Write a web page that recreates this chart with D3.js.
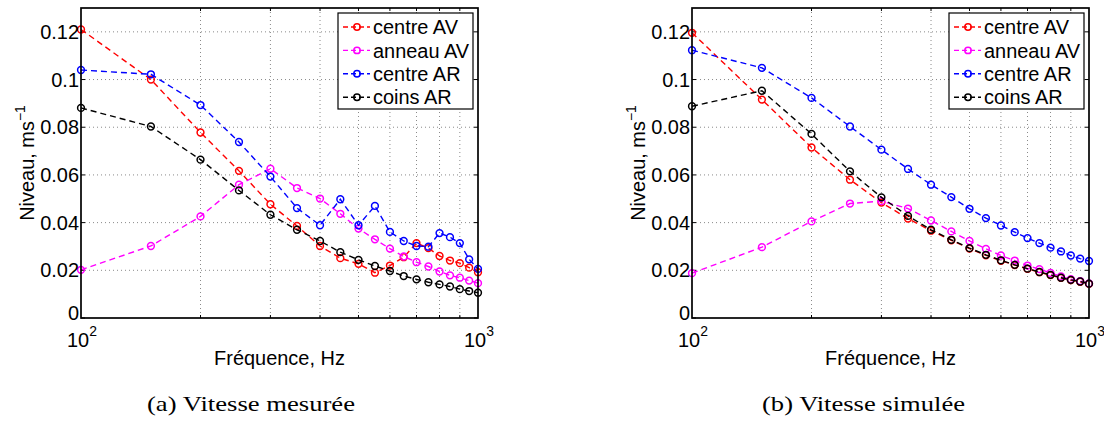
<!DOCTYPE html>
<html><head><meta charset="utf-8">
<script src="https://cdn.jsdelivr.net/npm/d3@7"></script>
<style>body{margin:0;background:#fff}svg{display:block}</style>
</head><body>
<svg id="c" width="1104" height="421"></svg>
<script>
// ---- data ----
const freqs = [100,150,200,250,300,350,400,450,500,550,600,650,700,750,800,850,900,950,1000];
const seriesNames = ["centre AV","anneau AV","centre AR","coins AR"];
const seriesColors = ["#ff0000","#ff00ff","#0000ff","#000000"];
const yTicks = [0,0.02,0.04,0.06,0.08,0.1,0.12];
const yTickLabels = ["0","0.02","0.04","0.06","0.08","0.1","0.12"];
const xGridVals = [200,300,400,500,600,700,800,900];
const captions = ["(a) Vitesse mesurée","(b) Vitesse simulée"];

const centreAV_a = [0.121,0.100,0.0778,0.0617,0.0477,0.0386,0.0302,0.0251,0.0227,0.0190,0.0220,0.0255,0.0314,0.0293,0.0260,0.0241,0.0230,0.0211,0.0192];
const anneauAV_a = [0.0202,0.0302,0.0426,0.0559,0.0626,0.0545,0.0501,0.0437,0.0375,0.0330,0.0291,0.0258,0.0234,0.0216,0.0195,0.0179,0.0169,0.0157,0.0146];
const centreAR_a = [0.1040,0.1022,0.0893,0.0738,0.0593,0.0461,0.0389,0.0498,0.0389,0.0470,0.0361,0.0323,0.0302,0.0299,0.0356,0.0339,0.0314,0.0246,0.0206];
const coinsAR_a = [0.0881,0.0803,0.0664,0.0535,0.0433,0.0370,0.0323,0.0276,0.0244,0.0218,0.0197,0.0176,0.0162,0.0150,0.0141,0.0132,0.0121,0.0113,0.0106];

const centreAV_b = [0.1196,0.0916,0.0715,0.0580,0.0484,0.0417,0.0366,0.0326,0.0291,0.0263,0.0240,0.0222,0.0206,0.0192,0.0180,0.0168,0.0159,0.0152,0.0143];
const anneauAV_b = [0.0188,0.0297,0.0405,0.0480,0.0490,0.0459,0.0409,0.0363,0.0323,0.0290,0.0262,0.0241,0.0220,0.0205,0.0189,0.0174,0.0163,0.0155,0.0145];
const centreAR_b = [0.1123,0.1049,0.0923,0.0803,0.0706,0.0625,0.0559,0.0507,0.0458,0.0419,0.0388,0.0360,0.0335,0.0314,0.0295,0.0279,0.0262,0.0249,0.0239];
const coinsAR_b = [0.0888,0.0953,0.0772,0.0615,0.0506,0.0428,0.0370,0.0328,0.0293,0.0265,0.0242,0.0223,0.0207,0.0193,0.0181,0.0169,0.0160,0.0153,0.0144];

const panels = [
  {x0:81, x1:478, capX:251, series:[centreAV_a, anneauAV_a, centreAR_a, coinsAR_a]},
  {x0:692, x1:1089, capX:863.5, series:[centreAV_b, anneauAV_b, centreAR_b, coinsAR_b]}
];
const yTop = 8, yBot = 318;
const FONT = "'Liberation Sans', Arial, Helvetica, sans-serif";
const SERIF = "'Liberation Serif', 'Times New Roman', serif";
const svg = d3.select("#c");

// calibrate font size so "centre AV" is ~85px wide (as in reference)
const probe = svg.append("text").attr("font-family",FONT).attr("font-size",100).text("centre AV");
const FS = Math.min(21, Math.max(16, 85 / probe.node().getComputedTextLength() * 100));
probe.remove();
const probe2 = svg.append("text").attr("font-family",SERIF).attr("font-size",100).text(captions[0]);
const CFS = Math.min(22, Math.max(16, 195 / probe2.node().getComputedTextLength() * 100));
probe2.remove();

panels.forEach((p, pi) => {
  const x = d3.scaleLog().domain([100,1000]).range([p.x0, p.x1]);
  const y = d3.scaleLinear().domain([0,0.13]).range([yBot, yTop]);
  const g = svg.append("g");

  // grid
  g.selectAll(".gx").data(xGridVals).enter().append("line")
    .attr("x1", d=>x(d)).attr("x2", d=>x(d)).attr("y1", yTop).attr("y2", yBot)
    .attr("stroke","#8a8a8a").attr("stroke-width",1).attr("stroke-dasharray","1,3");
  g.selectAll(".gy").data(yTicks.slice(1)).enter().append("line")
    .attr("x1", p.x0).attr("x2", p.x1).attr("y1", d=>y(d)).attr("y2", d=>y(d))
    .attr("stroke","#8a8a8a").attr("stroke-width",1).attr("stroke-dasharray","1,3");

  // inner ticks
  yTicks.forEach(t => {
    g.append("line").attr("x1",p.x0).attr("x2",p.x0+4).attr("y1",y(t)).attr("y2",y(t)).attr("stroke","#000");
    g.append("line").attr("x1",p.x1).attr("x2",p.x1-4).attr("y1",y(t)).attr("y2",y(t)).attr("stroke","#000");
  });
  xGridVals.forEach(t => {
    g.append("line").attr("x1",x(t)).attr("x2",x(t)).attr("y1",yBot).attr("y2",yBot-3).attr("stroke","#000");
    g.append("line").attr("x1",x(t)).attr("x2",x(t)).attr("y1",yTop).attr("y2",yTop+3).attr("stroke","#000");
  });

  // series
  p.series.forEach((vals, si) => {
    const pts = freqs.map((f,i)=>[f, vals[i]]);
    const line = d3.line().x(d=>x(d[0])).y(d=>y(d[1]));
    g.append("path").attr("d", line(pts)).attr("fill","none")
      .attr("stroke", seriesColors[si]).attr("stroke-width",1.4).attr("stroke-dasharray","6,4");
    g.selectAll(null).data(pts).enter().append("circle")
      .attr("cx", d=>x(d[0])).attr("cy", d=>y(d[1])).attr("r",3.4)
      .attr("fill","none").attr("stroke", seriesColors[si]).attr("stroke-width",1.5);
  });

  // box
  g.append("rect").attr("x",p.x0).attr("y",yTop).attr("width",p.x1-p.x0).attr("height",yBot-yTop)
    .attr("fill","none").attr("stroke","#000").attr("stroke-width",1.7);

  // y tick labels
  yTicks.forEach((t,i) => {
    g.append("text").attr("x",p.x0-2).attr("y",y(t)).attr("dy", t===0 ? "0.1em" : "0.36em")
      .attr("text-anchor","end").attr("font-family",FONT).attr("font-size",FS).text(yTickLabels[i]);
  });

  // x tick labels 10^2 10^3
  [[100,"2"],[1000,"3"]].forEach(([v,e]) => {
    const t = g.append("text").attr("x",x(v)+1).attr("y",347).attr("text-anchor","middle")
      .attr("font-family",FONT).attr("font-size",FS);
    t.append("tspan").text("10");
    t.append("tspan").attr("dy",-11).attr("font-size",FS*0.7).text(e);
  });

  // x label
  g.append("text").attr("x",(p.x0+p.x1)/2).attr("y",365).attr("text-anchor","middle")
    .attr("font-family",FONT).attr("font-size",FS).text("Fréquence, Hz");

  // y label
  const yl = g.append("text").attr("transform",`translate(${p.x0-47},${(yTop+yBot)/2}) rotate(-90)`)
    .attr("text-anchor","middle").attr("font-family",FONT).attr("font-size",FS);
  yl.append("tspan").text("Niveau, ms");
  yl.append("tspan").attr("dy",-9).attr("font-size",FS*0.7).text("−1");

  // legend
  const lx = p.x1 - 140, ly = 13;
  const lg = g.append("g");
  lg.append("rect").attr("x",lx).attr("y",ly).attr("width",135).attr("height",96)
    .attr("fill","#fff").attr("stroke","#000").attr("stroke-width",1.2);
  seriesNames.forEach((n,si) => {
    const ry = ly + 14 + si*23.4;
    lg.append("line").attr("x1",lx+5).attr("x2",lx+32).attr("y1",ry).attr("y2",ry)
      .attr("stroke",seriesColors[si]).attr("stroke-width",1.4).attr("stroke-dasharray","5,3");
    lg.append("circle").attr("cx",lx+19).attr("cy",ry).attr("r",3.2).attr("fill","none")
      .attr("stroke",seriesColors[si]).attr("stroke-width",1.5);
    lg.append("text").attr("x",lx+35).attr("y",ry).attr("dy","0.36em")
      .attr("font-family",FONT).attr("font-size",FS).text(n);
  });

  // caption
  g.append("text").attr("x",p.capX).attr("y",411).attr("text-anchor","middle")
    .attr("font-family",SERIF).attr("font-size",CFS)
    .attr("textLength", pi===0 ? 208 : 203).attr("lengthAdjust","spacingAndGlyphs")
    .text(captions[pi]);
});
</script>
</body></html>
